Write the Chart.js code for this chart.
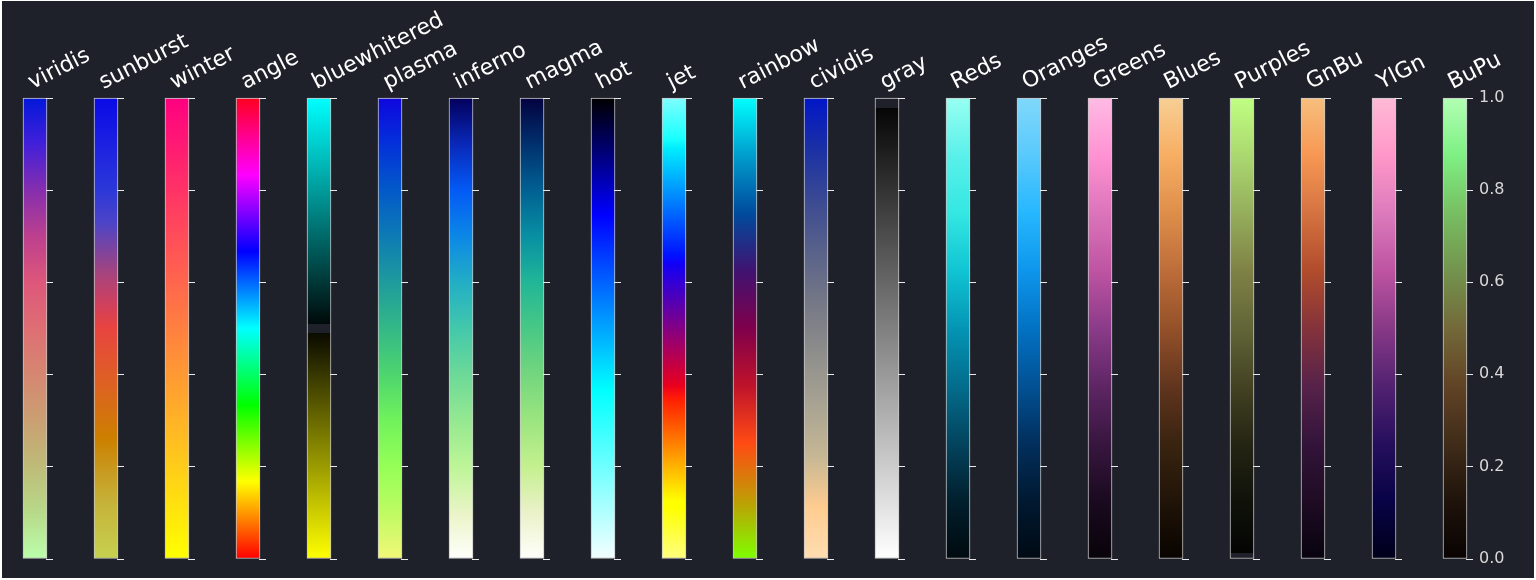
<!DOCTYPE html>
<html><head><meta charset="utf-8">
<script src="https://cdn.jsdelivr.net/npm/chart.js@4.4.1/dist/chart.umd.min.js"></script>
<style>
html,body{margin:0;padding:0;background:#ffffff;width:1536px;height:580px;overflow:hidden;}
#wrap{position:absolute;left:2px;top:1px;width:1532px;height:577px;background:#1f212a;}
</style></head><body>
<div id="wrap"><canvas id="c"></canvas></div>
<script>
// ---- data ----
const categories = ['viridis','sunburst','winter','angle','bluewhitered','plasma','inferno','magma','hot','jet','rainbow','cividis','gray','Reds','Oranges','Greens','Blues','Purples','GnBu','YlGn','BuPu'];
const barStart = [0,0,0,0,0,0,0,0,0,0,0,0,0,0,0,0,0,0,0,0,0];
const barEnd   = [1,1,1,1,1,1,1,1,1,1,1,1,1,1,1,1,1,1,1,1,1];
const tickValues = [0,0.2,0.4,0.6,0.8,1.0];
const tickLabels = ['0.0','0.2','0.4','0.6','0.8','1.0'];

// ---- colour maps (style) ----
const BG = '#1f212a';
const even = list => list.map((c,i)=>[i/(list.length-1), c]);
const colormaps = {
  viridis: even(['#bbfeab','#b7da89','#bebb78','#ca9f72','#d58771','#de6e73','#dd577b','#bc408e','#852eae','#4220d9','#0218da']),
  sunburst: [[0,'#c6d050'],[0.116,'#c6b43a'],[0.19,'#c89a20'],[0.26,'#cc8000'],[0.37,'#dc6420'],[0.5,'#e8443f'],[0.558,'#cc4060'],[0.616,'#a8447c'],[0.674,'#7a44a0'],[0.73,'#4c44c8'],[0.8,'#2c38d8'],[0.91,'#1a1ee2'],[1,'#0a0ae6']],
  winter: [[0,'#ffff00'],[1,'#ff0080']],
  angle: [[0,'#ff0000'],[1/6,'#ffff00'],[1/3,'#00ff00'],[0.5,'#00ffff'],[2/3,'#0000ff'],[5/6,'#ff00ff'],[1,'#ff0020']],
  bluewhitered: [[0,'#ffff00'],[0.49,'#0a0a00'],[0.4901,BG],[0.51,BG],[0.5101,'#000a0a'],[1,'#00ffff']],
  plasma: even(['#f2f778','#befb62','#95ff57','#70f25b','#4ed56f','#33b887','#1e9b9d','#0d7bb4','#0359c9','#0331da','#0f06de']),
  inferno: even(['#fffffb','#e9f4c6','#bdf597','#95e891','#6cd998','#43c8ab','#22aec5','#0c87e6','#035af5','#0928b9','#03005b']),
  magma: even(['#fffffb','#ebf1c9','#c4f08f','#9be57f','#73d67e','#48c886','#21b697','#088fa3','#016092','#01306d','#030240']),
  hot: [[0,'#f4ffff'],[0.365,'#00ffff'],[0.746,'#0000ff'],[1,'#000000']],
  jet: [[0,'#ffff80'],[0.11,'#ffff00'],[0.125,'#ffff00'],[0.34,'#ff2400'],[0.35,'#ff1908'],[0.375,'#ea001d'],[0.64,'#1100f7'],[0.65,'#0809ff'],[0.66,'#0013ff'],[0.89,'#00ecff'],[0.91,'#17ffff'],[1,'#80ffff']],
  rainbow: [[0,'#7fff00'],[0.125,'#bf9d05'],[0.25,'#ff4b13'],[0.375,'#bf132b'],[0.5,'#7f004b'],[0.625,'#401371'],[0.75,'#004b9d'],[0.875,'#009dcd'],[1,'#00ffff']],
  cividis: [[0,'#ffddb1'],[0.111,'#ffcc90'],[0.222,'#c6b794'],[0.333,'#a8a392'],[0.444,'#8f8e8c'],[0.556,'#757886'],[0.667,'#59628a'],[0.778,'#3b4a93'],[0.889,'#1b30a4'],[1,'#0117c7']],
  gray: [[0,'#ffffff'],[0.978,'#060606'],[0.9781,BG],[1,BG]],
  Reds: even(['#000a0f','#011f2d','#03445e','#036d8d','#0495b5','#10c4d3','#34e7e2','#5af0ea','#98fff2']),
  Oranges: even(['#000a14','#011931','#022f5d','#025194','#0272c3','#0e96ec','#26b7fe','#59c9fc','#80d8fb']),
  Greens: even(['#08030a','#1a0a1f','#38163f','#5e2664','#8b3b89','#be54a2','#dc74ba','#ff92d3','#ffbbe4']),
  Blues: even(['#080400','#211408','#392410','#61351e','#945129','#bd6d39','#de8e4a','#f7ae63','#f7cf94']),
  Purples: [[0,BG],[0.012,BG],[0.0121,'#040503'],[0.125,'#10120a'],[0.25,'#252514'],[0.375,'#434223'],[0.5,'#616537'],[0.625,'#7f8245'],[0.75,'#95ae5c'],[0.875,'#abd870'],[1,'#c0ff82']],
  GnBu: even(['#08030f','#1f0c24','#33143a','#57224a','#84333b','#b14c2c','#d47341','#f79753','#f7bf7e']),
  YlGn: even(['#00001a','#080346','#260f5c','#522271','#873986','#be54a2','#dc7bbc','#ff97c8','#ffbad6']),
  BuPu: even(['#080302','#1f130b','#402c19','#614325','#736939','#73944e','#77be62','#7ef083','#b2ffb4'])
};

function makeGradient(ctx) {
  const chart = ctx.chart;
  if (!chart.chartArea || ctx.dataIndex === undefined) return 'rgba(0,0,0,0)';
  const y = chart.scales.y;
  const y0 = y.getPixelForValue(barStart[ctx.dataIndex]);
  const y1 = y.getPixelForValue(barEnd[ctx.dataIndex]);
  const g = chart.ctx.createLinearGradient(0, y0, 0, y1);
  colormaps[categories[ctx.dataIndex]].forEach(([p, c]) => g.addColorStop(p, c));
  return g;
}

const barTicks = {
  id: 'barTicks',
  afterDatasetsDraw(chart) {
    const meta = chart.getDatasetMeta(0);
    const y = chart.scales.y;
    const c = chart.ctx;
    c.save();
    c.strokeStyle = '#e8e8e8';
    c.lineWidth = 1;
    meta.data.forEach(bar => {
      const xr = bar.x + bar.width / 2;
      y.ticks.forEach(t => {
        const py = Math.round(y.getPixelForValue(t.value)) + 0.5;
        c.beginPath();
        c.moveTo(xr - 1, py);
        c.lineTo(xr + 6, py);
        c.stroke();
      });
    });
    c.restore();
  }
};

Chart.defaults.font.family = "'DejaVu Sans'";
new Chart(document.getElementById('c'), {
  type: 'bar',
  data: {
    labels: categories,
    datasets: [{
      data: categories.map((_, i) => [barStart[i], barEnd[i]]),
      backgroundColor: makeGradient,
      borderColor: '#c8c8c8',
      borderWidth: 1,
      borderSkipped: false,
      barThickness: 24,
      clip: false
    }]
  },
  options: {
    responsive: true,
    maintainAspectRatio: false,
    devicePixelRatio: 1,
    animation: false,
    layout: { padding: { left: 33, right: 0, top: 0, bottom: 19.5 } },
    plugins: { legend: { display: false }, tooltip: { enabled: false }, title: { display: false } },
    scales: {
      x: {
        type: 'category',
        position: 'top',
        offset: false,
        grid: { display: false, drawTicks: false },
        border: { display: false },
        ticks: {
          color: '#ffffff',
          font: { size: 22 },
          minRotation: 27, maxRotation: 27,
          autoSkip: false,
          labelOffset: 7,
          padding: 2
        },
        afterFit(s) { s.height = 97; s.paddingLeft = 0; s.paddingRight = 0; }
      },
      y: {
        position: 'right',
        min: 0, max: 1,
        afterBuildTicks(s) { s.ticks = tickValues.map(v => ({ value: v })); },
        ticks: {
          color: '#d8d8d8',
          font: { size: 16 },
          padding: 24,
          callback: (v, i) => tickLabels[i]
        },
        grid: { display: false, drawTicks: false },
        border: { display: false },
        afterFit(s) { s.width = 79; s.paddingTop = 0; s.paddingBottom = 0; }
      }
    }
  },
  plugins: [barTicks]
});
</script>
</body></html>
